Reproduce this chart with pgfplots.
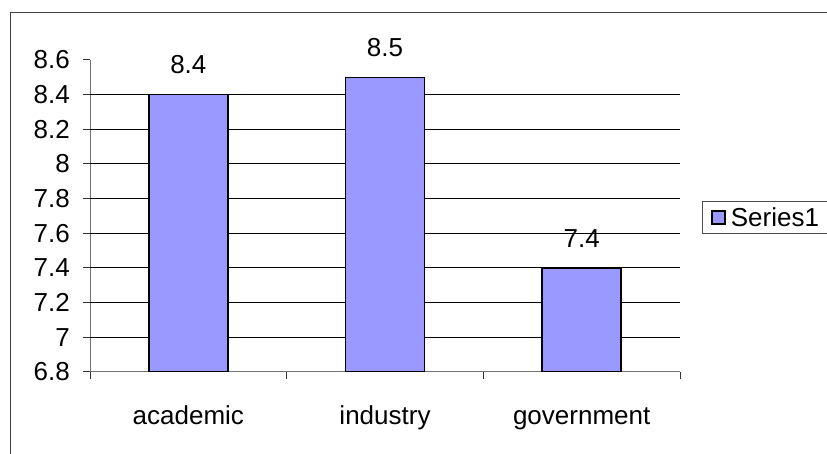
\documentclass[border=0pt]{standalone}
\usepackage{pgfplots}
\pgfplotsset{compat=1.18}
\usepackage{fontspec}
\setmainfont{Liberation Sans}
\definecolor{barblue}{HTML}{9999FF}
\definecolor{axisgray}{HTML}{707070}
\begin{document}
\begin{tikzpicture}[x=1pt,y=1pt]
\useasboundingbox (0,0) rectangle (827,454);
\draw[color=black!75, line width=1pt] (10,-5) rectangle (835,441);
\begin{axis}[
  at={(90pt,82pt)}, anchor=south west,
  scale only axis, width=590pt, height=312pt,
  xmin=-0.5, xmax=2.5, ymin=0, ymax=1.8,
  y filter/.expression={y-6.8},
  axis x line*=bottom, axis y line*=left,
  axis line style={-, draw=axisgray, line width=1pt},
  tick align=outside,
  major tick length=7pt,
  every tick/.style={draw=black!80, line width=1pt},
  xtick={-0.5,0.5,1.5,2.5}, xticklabels={},
  extra x ticks={0,1,2},
  extra x tick labels={academic,industry,government},
  extra x tick style={major tick length=0pt, xticklabel style={anchor=base, inner sep=0pt, yshift=-53pt}},
  ytick={0,0.2,0.4,0.6,0.8,1.0,1.2,1.4,1.6,1.8},
  yticklabels={6.8,7,7.2,7.4,7.6,7.8,8,8.2,8.4,8.6},
  yticklabel style={anchor=east, inner sep=0pt, xshift=-13pt},
  extra y ticks={0.2,0.4,0.6,0.8,1.0,1.2,1.4,1.6},
  extra y tick labels={},
  extra y tick style={grid=major, major tick length=0pt},
  major grid style={draw=black, line width=1pt},
  tick label style={font=\fontsize{26}{31}\selectfont},
  /pgf/number format/assume math mode=true,
  nodes near coords,
  point meta=rawy,
  nodes near coords style={font=\fontsize{26}{31}\selectfont, anchor=south, inner sep=0pt, yshift=20pt, /pgf/number format/assume math mode=true},
  legend style={at={(axis description cs:1.037,0.548)}, anchor=north west, draw=black!70, line width=1pt, font=\fontsize{26}{31}\selectfont, inner xsep=9pt, inner ysep=4pt, /tikz/every odd column/.append style={column sep=3pt}},
  legend image code/.code={\draw[#1, line width=1.5pt] (0pt,-6.5pt) rectangle (13pt,6.5pt);},
]
\addplot[ybar, bar width=79pt, fill=barblue, draw=black, line width=1.5pt] coordinates {(0,8.4) (1,8.5) (2,7.4)};
\addlegendentry{Series1}
\end{axis}
\end{tikzpicture}
\end{document}
